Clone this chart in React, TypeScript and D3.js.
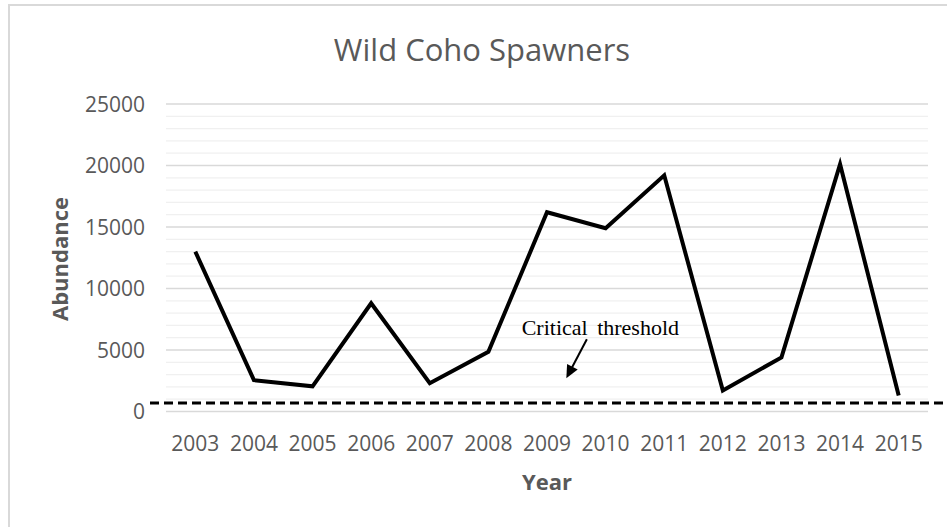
import React from "react";
import * as d3 from "d3";

const years = ["2003","2004","2005","2006","2007","2008","2009","2010","2011","2012","2013","2014","2015"];
const abundance = [13000, 2550, 2050, 8800, 2300, 4850, 16200, 14900, 19200, 1700, 4400, 20100, 1300];
const yTicks = [0, 5000, 10000, 15000, 20000, 25000];
const minorTicks = d3.range(0, 25001, 1000);
const threshold = 700;
// annotation in data space: [fractional year index, value]
const labelPos = [6.91, 6220];
const arrowFrom = [6.68, 5870];
const arrowTo = [6.33, 2700];

const W = 947, H = 527;
const left = 166, right = 928, top = 104, bottom = 411.5;

export default function App() {
  const x = d3.scalePoint<string>().domain(years).range([left, right]).padding(0.5);
  const step = x.step();
  const xi = (i: number) => (x(years[0]) as number) + i * step;
  const y = d3.scaleLinear().domain([0, 25000]).range([bottom, top]);
  const line = d3.line<number>().x((_, i) => x(years[i]) as number).y(d => y(d));
  const font = "'Open Sans', sans-serif";
  const ax = xi(arrowFrom[0]), ay = y(arrowFrom[1]);
  const bx = xi(arrowTo[0]), by = y(arrowTo[1]);
  const ang = Math.atan2(by - ay, bx - ax);
  const hl = 13, hw = 6;
  const p1 = [bx - hl * Math.cos(ang) + hw * Math.sin(ang), by - hl * Math.sin(ang) - hw * Math.cos(ang)];
  const p2 = [bx - hl * Math.cos(ang) - hw * Math.sin(ang), by - hl * Math.sin(ang) + hw * Math.cos(ang)];
  return (
    <svg width={W} height={H} style={{ position: "fixed", left: 0, top: 0, background: "#fff" }}>
      <rect x={9} y={5} width={W} height={H} fill="#fff" stroke="#d9d9d9" strokeWidth={2} />
      {minorTicks.filter(t => t % 5000 !== 0).map(t => (
        <line key={"m" + t} x1={left} x2={right} y1={y(t)} y2={y(t)} stroke="#f0f0f0" strokeWidth={1.3} />
      ))}
      {yTicks.map(t => (
        <line key={"g" + t} x1={left} x2={right} y1={y(t)} y2={y(t)} stroke="#d9d9d9" strokeWidth={1.3} />
      ))}
      {yTicks.map(t => (
        <text key={"t" + t} x={145} y={y(t)} dy="0.36em" textAnchor="end" fontFamily={font} fontSize={21} fill="#595959">{t}</text>
      ))}
      {years.map(yr => (
        <text key={yr} x={x(yr) as number} y={443} dy="0.36em" textAnchor="middle" fontFamily={font} fontSize={21} fill="#595959">{yr}</text>
      ))}
      <line x1={left - 16} x2={W} y1={y(threshold)} y2={y(threshold)} stroke="#000" strokeWidth={3} strokeDasharray="9,5" />
      <path d={line(abundance) as string} fill="none" stroke="#000" strokeWidth={4} strokeLinejoin="miter" />
      <text x={xi(labelPos[0])} y={y(labelPos[1])} textAnchor="middle" fontFamily="'Liberation Serif', 'Times New Roman', serif" fontSize={22} wordSpacing={4} fill="#000">Critical threshold</text>
      <line x1={ax} y1={ay} x2={bx - (hl - 2) * Math.cos(ang)} y2={by - (hl - 2) * Math.sin(ang)} stroke="#000" strokeWidth={2} />
      <polygon points={`${bx},${by} ${p1[0]},${p1[1]} ${p2[0]},${p2[1]}`} fill="#000" />
      <text x={482} y={50} dy="0.36em" textAnchor="middle" fontFamily={font} fontSize={31} fill="#595959">Wild Coho Spawners</text>
      <text transform={`translate(60,259) rotate(-90)`} textAnchor="middle" dy="0.36em" fontFamily={font} fontSize={22} fontWeight="bold" fill="#595959">Abundance</text>
      <text x={547} y={482} dy="0.36em" textAnchor="middle" fontFamily={font} fontSize={22} fontWeight="bold" fill="#595959">Year</text>
    </svg>
  );
}
